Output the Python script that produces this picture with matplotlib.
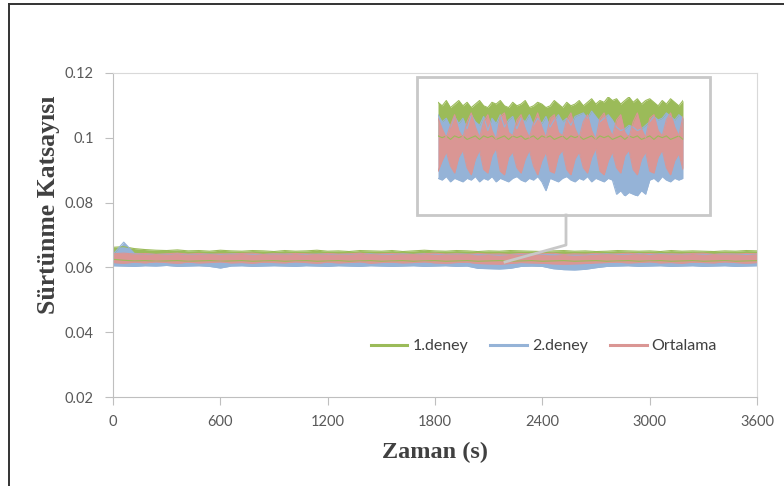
# -*- coding: utf-8 -*-
import numpy as np
import matplotlib.pyplot as plt
from matplotlib.lines import Line2D
from matplotlib.patches import Rectangle

# time axis, one reading every 60 s
zaman = np.arange(0, 3601, 60)

# friction coefficient, upper / lower edge of each noisy trace (x 1e-5)
deney1_ust = [
    6620, 6640, 6580, 6550, 6530, 6520, 6540, 6510, 6520, 6500,
    6530, 6510, 6500, 6520, 6510, 6490, 6520, 6500, 6510, 6530,
    6500, 6510, 6490, 6520, 6510, 6500, 6520, 6490, 6510, 6530,
    6510, 6500, 6520, 6510, 6490, 6510, 6500, 6520, 6510, 6500,
    6490, 6510, 6520, 6500, 6510, 6490, 6500, 6520, 6510, 6500,
    6510, 6490, 6520, 6500, 6510, 6500, 6490, 6510, 6500, 6520, 6510]
deney1_alt = [
    6250, 6220, 6200, 6210, 6190, 6200, 6210, 6190, 6200, 6210,
    6190, 6200, 6210, 6190, 6200, 6210, 6190, 6200, 6210, 6190,
    6200, 6210, 6190, 6200, 6210, 6190, 6200, 6210, 6190, 6200,
    6210, 6190, 6200, 6210, 6190, 6200, 6210, 6190, 6200, 6210,
    6190, 6200, 6210, 6190, 6200, 6210, 6190, 6200, 6210, 6190,
    6200, 6210, 6190, 6200, 6210, 6190, 6200, 6210, 6190, 6200, 6210]
deney2_ust = [
    6400, 6780, 6430, 6420, 6400, 6410, 6430, 6400, 6420, 6410,
    6400, 6420, 6430, 6410, 6400, 6420, 6410, 6430, 6400, 6410,
    6420, 6400, 6410, 6430, 6420, 6400, 6410, 6420, 6400, 6430,
    6410, 6400, 6420, 6410, 6390, 6400, 6380, 6400, 6410, 6420,
    6400, 6390, 6400, 6380, 6390, 6410, 6420, 6400, 6410, 6430,
    6400, 6420, 6410, 6400, 6430, 6410, 6400, 6420, 6410, 6400, 6420]
deney2_alt = [
    6050, 6040, 6030, 6050, 6040, 6060, 6030, 6040, 6050, 6030,
    5980, 6040, 6050, 6030, 6040, 6050, 6040, 6030, 6050, 6040,
    6030, 6050, 6040, 6030, 6050, 6040, 6030, 6040, 6050, 6030,
    6040, 6050, 6030, 6040, 5970, 5960, 5950, 5970, 6030, 6040,
    6030, 5960, 5930, 5920, 5940, 5990, 6030, 6040, 6050, 6030,
    6040, 6050, 6030, 6040, 6050, 6030, 6040, 6050, 6030, 6040, 6050]
ortalama_ust = [
    6420, 6440, 6410, 6430, 6400, 6420, 6440, 6410, 6430, 6400,
    6420, 6410, 6430, 6440, 6400, 6420, 6410, 6430, 6420, 6400,
    6430, 6410, 6420, 6440, 6400, 6420, 6430, 6410, 6400, 6420,
    6440, 6410, 6420, 6400, 6430, 6410, 6420, 6400, 6430, 6410,
    6420, 6440, 6400, 6420, 6410, 6430, 6400, 6420, 6440, 6410,
    6430, 6400, 6420, 6410, 6430, 6440, 6400, 6420, 6410, 6430, 6420]
ortalama_alt = [
    6150, 6130, 6160, 6140, 6170, 6150, 6130, 6160, 6140, 6150,
    6170, 6140, 6150, 6130, 6160, 6150, 6140, 6170, 6150, 6130,
    6160, 6140, 6150, 6170, 6130, 6150, 6160, 6140, 6150, 6170,
    6140, 6130, 6150, 6160, 6120, 6110, 6100, 6120, 6150, 6140,
    6130, 6110, 6100, 6110, 6120, 6140, 6150, 6160, 6140, 6150,
    6170, 6140, 6150, 6130, 6160, 6150, 6140, 6170, 6150, 6130, 6150]

# magnified detail shown in the inset box (x 1e-5)
zoom1_ust = [
    6490, 6470, 6500, 6460, 6480, 6500, 6470, 6490, 6460, 6480,
    6500, 6470, 6460, 6490, 6480, 6500, 6470, 6460, 6490, 6470,
    6480, 6500, 6460, 6470, 6490, 6480, 6460, 6470, 6500, 6480,
    6460, 6490, 6470, 6480, 6500, 6470, 6490, 6510, 6480, 6500,
    6490, 6520, 6500, 6510, 6480, 6500, 6520, 6490, 6510, 6480,
    6500, 6510, 6490, 6470, 6500, 6480, 6510, 6490, 6470, 6500]
zoom1_alt = [
    6300, 6290, 6300, 6280, 6300, 6290, 6300, 6280, 6290, 6300,
    6280, 6300, 6290, 6300, 6280, 6290, 6300, 6280, 6300, 6290,
    6300, 6280, 6290, 6300, 6280, 6300, 6290, 6300, 6280, 6290,
    6300, 6280, 6300, 6290, 6300, 6280, 6290, 6300, 6280, 6300,
    6290, 6300, 6280, 6290, 6300, 6280, 6300, 6290, 6300, 6280,
    6290, 6300, 6280, 6300, 6290, 6300, 6280, 6290, 6300, 6280]
zoom2_ust = [
    6420, 6380, 6400, 6350, 6410, 6370, 6400, 6340, 6420, 6380,
    6360, 6410, 6330, 6400, 6370, 6420, 6350, 6390, 6410, 6340,
    6400, 6380, 6420, 6360, 6400, 6370, 6410, 6350, 6390, 6420,
    6380, 6400, 6360, 6410, 6420, 6430, 6400, 6440, 6410, 6380,
    6400, 6420, 6390, 6350, 6330, 6340, 6360, 6350, 6330, 6340,
    6360, 6380, 6410, 6390, 6400, 6430, 6410, 6390, 6420, 6400]
zoom2_alt = [
    6060, 6050, 6070, 6040, 6060, 6050, 6040, 6060, 6050, 6070,
    6040, 6060, 6050, 6070, 6040, 6060, 6050, 6040, 6060, 6070,
    6050, 6040, 6060, 6050, 6070, 6040, 5990, 6060, 6050, 6040,
    6060, 6070, 6050, 6040, 6060, 6050, 6070, 6040, 6060, 6050,
    6040, 6060, 6050, 5970, 5990, 5960, 5980, 5970, 5960, 5990,
    5970, 6050, 6060, 6040, 6070, 6050, 6040, 6060, 6050, 6060]
zoom_ort_ust = [
    6400, 6340, 6290, 6360, 6420, 6330, 6290, 6380, 6430, 6350,
    6290, 6380, 6420, 6330, 6280, 6410, 6430, 6320, 6300, 6390,
    6420, 6340, 6290, 6370, 6430, 6350, 6290, 6400, 6420, 6320,
    6300, 6390, 6430, 6340, 6290, 6380, 6420, 6330, 6280, 6400,
    6430, 6350, 6300, 6390, 6420, 6320, 6290, 6380, 6430, 6340,
    6290, 6400, 6420, 6330, 6300, 6390, 6430, 6350, 6300, 6410]
zoom_ort_alt = [
    6100, 6160, 6210, 6130, 6090, 6180, 6220, 6120, 6080, 6170,
    6220, 6110, 6090, 6190, 6230, 6100, 6080, 6180, 6210, 6120,
    6090, 6170, 6220, 6130, 6080, 6160, 6210, 6100, 6090, 6190,
    6220, 6110, 6080, 6170, 6210, 6120, 6090, 6180, 6230, 6100,
    6080, 6160, 6210, 6120, 6090, 6190, 6220, 6110, 6080, 6170,
    6210, 6100, 6090, 6180, 6220, 6120, 6080, 6160, 6200, 6110]

yticks = [0.02, 0.04, 0.06, 0.08, 0.1, 0.12]
ytick_labels = ['0.02', '0.04', '0.06', '0.08', '0.1', '0.12']
xticks = [0, 600, 1200, 1800, 2400, 3000, 3600]
etiketler = ['1.deney', '2.deney', 'Ortalama']

c1, c2, c3 = '#9bbb59', '#95b3d7', '#da9694'
gray = '#595959'

W, H = 784, 486
fig = plt.figure(figsize=(W / 100, H / 100), dpi=100)

def fx(px):
    return px / W

def fy(py):
    return 1 - py / H

def band(a, x, ust, alt, c):
    ust = np.array(ust) / 1e5
    alt = np.array(alt) / 1e5
    a.fill_between(x, alt, ust, color=c, lw=0)
    a.plot(x, ust, color=c, lw=0.8)
    a.plot(x, alt, color=c, lw=0.8)

# outer frame (top and left only)
fig.add_artist(Line2D([fx(9), 1], [fy(4.5), fy(4.5)], color='#333333', lw=1.4))
fig.add_artist(Line2D([fx(9), fx(9)], [fy(4.5), 0], color='#333333', lw=1.4))

ax = fig.add_axes([fx(113), fy(397), fx(757) - fx(113), fy(73) - fy(397)])
band(ax, zaman, deney1_ust, deney1_alt, c1)
band(ax, zaman, deney2_ust, deney2_alt, c2)
band(ax, zaman, ortalama_ust, ortalama_alt, c3)

ax.set_xlim(0, 3600)
ax.set_ylim(0.02, 0.12)
ax.set_xticks(xticks)
ax.set_yticks(yticks)
ax.set_yticklabels(ytick_labels)
for s in ax.spines.values():
    s.set_color('#d9d9d9')
ax.spines['left'].set_color('#bfbfbf')
ax.spines['bottom'].set_color('#bfbfbf')
ax.tick_params(direction='out', length=6, color='#bfbfbf', labelcolor=gray,
               labelsize=10.5)
ax.tick_params(axis='y', pad=8)
ax.tick_params(axis='x', pad=7)
for lab in ax.get_xticklabels() + ax.get_yticklabels():
    lab.set_fontfamily('Lato')

ax.set_xlabel('Zaman (s)', fontsize=17.5, fontweight='bold', color='#404040',
              family='Liberation Serif')
ax.xaxis.set_label_coords(0.5, -0.14)
ax.set_ylabel('Sürtünme Katsayısı', fontsize=18.5, fontweight='bold', color='#404040',
              family='Liberation Serif')
ax.yaxis.set_label_coords(-0.083, 0.593)

handles = [Line2D([], [], color=c, lw=2.2) for c in (c1, c2, c3)]
leg = ax.legend(handles, etiketler, loc='center', bbox_to_anchor=(0.669, 0.157),
                ncol=3, frameon=False, handlelength=2.3, columnspacing=1.4,
                handletextpad=0.3, prop={'family': 'Lato', 'size': 11.5})
for t in leg.get_texts():
    t.set_color('#404040')

# inset box with magnified detail
fig.add_artist(Rectangle((fx(417), fy(215)), fx(710) - fx(417), fy(77) - fy(215),
                         fill=False, edgecolor='#c8c8c8', lw=2))
fig.add_artist(Line2D([fx(566), fx(566), fx(505)], [fy(215), fy(245), fy(262)],
                      color='#c8c8c8', lw=2))

axi = fig.add_axes([fx(438), fy(196), fx(683) - fx(438), fy(97) - fy(196)])
idx = np.arange(len(zoom1_ust))
band(axi, idx, zoom1_ust, zoom1_alt, c1)
band(axi, idx, zoom2_ust, zoom2_alt, c2)
band(axi, idx, zoom_ort_ust, zoom_ort_alt, c3)
axi.set_xlim(idx[0], idx[-1])
axi.set_ylim(0.0596, 0.0652)
axi.axis('off')

fig.savefig('out.png', dpi=100)
